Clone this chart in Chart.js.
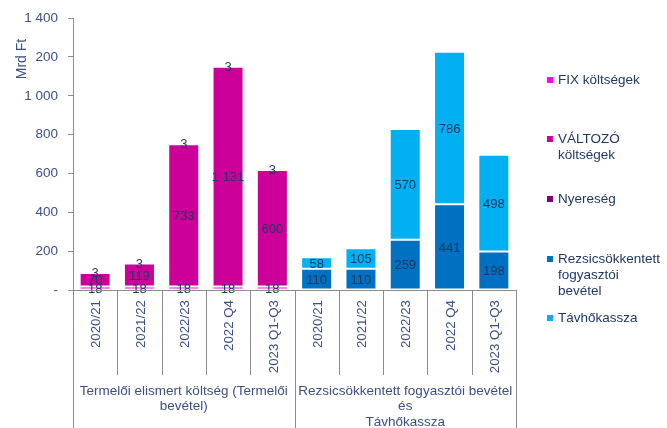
<!DOCTYPE html>
<html>
<head>
<meta charset="utf-8">
<script src="https://cdn.jsdelivr.net/npm/chart.js@4"></script>
<style>
body{margin:0;background:#fff;}
canvas{display:block;}
</style>
</head>
<body>
<canvas id="chart" width="667" height="428"></canvas>
<script>
// ADATOK
const categories=["2020/21","2021/22","2022/23","2022 Q4","2023 Q1-Q3","2020/21","2021/22","2022/23","2022 Q4","2023 Q1-Q3"];
const groupLabels=[
["Termelői elismert költség (Termelői","bevétel)"],
["Rezsicsökkentett fogyasztói bevétel","és","Távhőkassza"]
];
const groupSize=5;
const fixCost=[18,18,18,18,18,null,null,null,null,null];
const valtozoCost=[70,119,733,1131,600,null,null,null,null,null];
const nyereseg=[3,3,3,3,3,null,null,null,null,null];
const rezsiBevetel=[null,null,null,null,null,110,110,259,441,198];
const tavhokassza=[null,null,null,null,null,58,105,570,786,498];
const yTicks=[0,200,400,600,800,1000,1200,1400];

const FONT="'Liberation Sans', Arial, sans-serif";
const TXT="#1F3864";
const AXIS="#3B4F85";
const LINE="#8c8c8c";

const fmt=n=>String(n).replace(/\B(?=(\d{3})+(?!\d))/g," ");

// jelmagyarázat - sorrend a képen
const legendItems=[
{lines:["FIX költségek"],color:"#FF00FF",y:80},
{lines:["VÁLTOZÓ","költségek"],color:"#CC0099",y:139},
{lines:["Nyereség"],color:"#800080",y:199},
{lines:["Rezsicsökkentett","fogyasztói","bevétel"],color:"#0070C0",y:259},
{lines:["Távhőkassza"],color:"#00B0F0",y:318}
];

const extras={
id:"extras",
afterDatasetsDraw(c){
const ctx=c.ctx;
ctx.save();
ctx.font="13px "+FONT;
ctx.fillStyle=TXT;
ctx.textAlign="center";
ctx.textBaseline="middle";
c.data.datasets.forEach((ds,i)=>{
const meta=c.getDatasetMeta(i);
meta.data.forEach((bar,j)=>{
const v=ds.data[j];
if(v==null) return;
ctx.fillText(fmt(v),bar.x,(bar.y+bar.base)/2+1);
});
});
ctx.restore();
},
afterDraw(c){
const ctx=c.ctx;
const x=c.scales.x, area=c.chartArea;
const half=(x.getPixelForValue(1)-x.getPixelForValue(0))/2;
ctx.save();
// x tengely + elválasztók
ctx.strokeStyle=LINE;
ctx.lineWidth=1;
ctx.beginPath();
ctx.moveTo(area.left,area.bottom+0.5);
ctx.lineTo(area.right,area.bottom+0.5);
for(let i=0;i<=categories.length;i++){
const px=Math.round(x.getPixelForValue(i)-half)+0.5;
const bottom=(i%groupSize===0)?428:375;
ctx.moveTo(px,area.bottom);
ctx.lineTo(px,bottom);
}
ctx.stroke();

// kategória feliratok
ctx.font="13.3px "+FONT;
ctx.fillStyle=AXIS;
categories.forEach((cat,i)=>{
ctx.save();
ctx.translate(x.getPixelForValue(i)+1.5,area.bottom+10);
ctx.rotate(-Math.PI/2);
ctx.textAlign="right";
ctx.textBaseline="middle";
ctx.fillText(cat,0,0);
ctx.restore();
});

// csoport feliratok
ctx.font="13.5px "+FONT;
ctx.textAlign="center";
ctx.textBaseline="middle";
groupLabels.forEach((lines,g)=>{
const cx=(x.getPixelForValue(g*groupSize)+x.getPixelForValue(g*groupSize+groupSize-1))/2;
lines.forEach((t,k)=>ctx.fillText(t,cx,391+k*15.5));
});

// y tengely cím
ctx.fillStyle="#fff";
ctx.fillRect(14,34,18,50);
ctx.save();
ctx.translate(22,59);
ctx.rotate(-Math.PI/2);
ctx.fillStyle=AXIS;
ctx.font="14px "+FONT;
ctx.fillText("Mrd Ft",0,0);
ctx.restore();

// jelmagyarázat
ctx.font="13.5px "+FONT;
ctx.textAlign="left";
legendItems.forEach(it=>{
ctx.fillStyle=it.color;
ctx.fillRect(547,it.y-3,6,6);
ctx.fillStyle=TXT;
it.lines.forEach((t,k)=>ctx.fillText(t,558,it.y+k*16.3));
});
ctx.restore();
}
};

const mk=(label,data,color)=>({
label,data,backgroundColor:color,
borderColor:"rgba(255,255,255,0.45)",borderWidth:1,borderSkipped:false,
barPercentage:0.7,categoryPercentage:1
});

new Chart(document.getElementById("chart"),{
type:"bar",
data:{
labels:categories,
datasets:[
mk("FIX költségek",fixCost,"#FF00FF"),
mk("VÁLTOZÓ költségek",valtozoCost,"#CC0099"),
mk("Nyereség",nyereseg,"#800080"),
mk("Rezsicsökkentett fogyasztói bevétel",rezsiBevetel,"#0070C0"),
mk("Távhőkassza",tavhokassza,"#00B0F0")
]
},
options:{
responsive:false,
animation:false,
layout:{padding:{left:0,top:16,right:151,bottom:138}},
plugins:{legend:{display:false},tooltip:{enabled:false}},
scales:{
x:{stacked:true,display:false},
y:{
stacked:true,min:0,max:1400,
afterBuildTicks:s=>{s.ticks=yTicks.map(v=>({value:v}));},
afterFit:s=>{s.width=73;},
border:{display:true,color:LINE},
grid:{drawOnChartArea:false,drawTicks:true,tickLength:5,color:LINE},
ticks:{
color:AXIS,padding:10,
font:{family:FONT,size:13.5},
callback:v=>v===0?"-":fmt(v)
}
}
}
},
plugins:[extras]
});
</script>
</body>
</html>
